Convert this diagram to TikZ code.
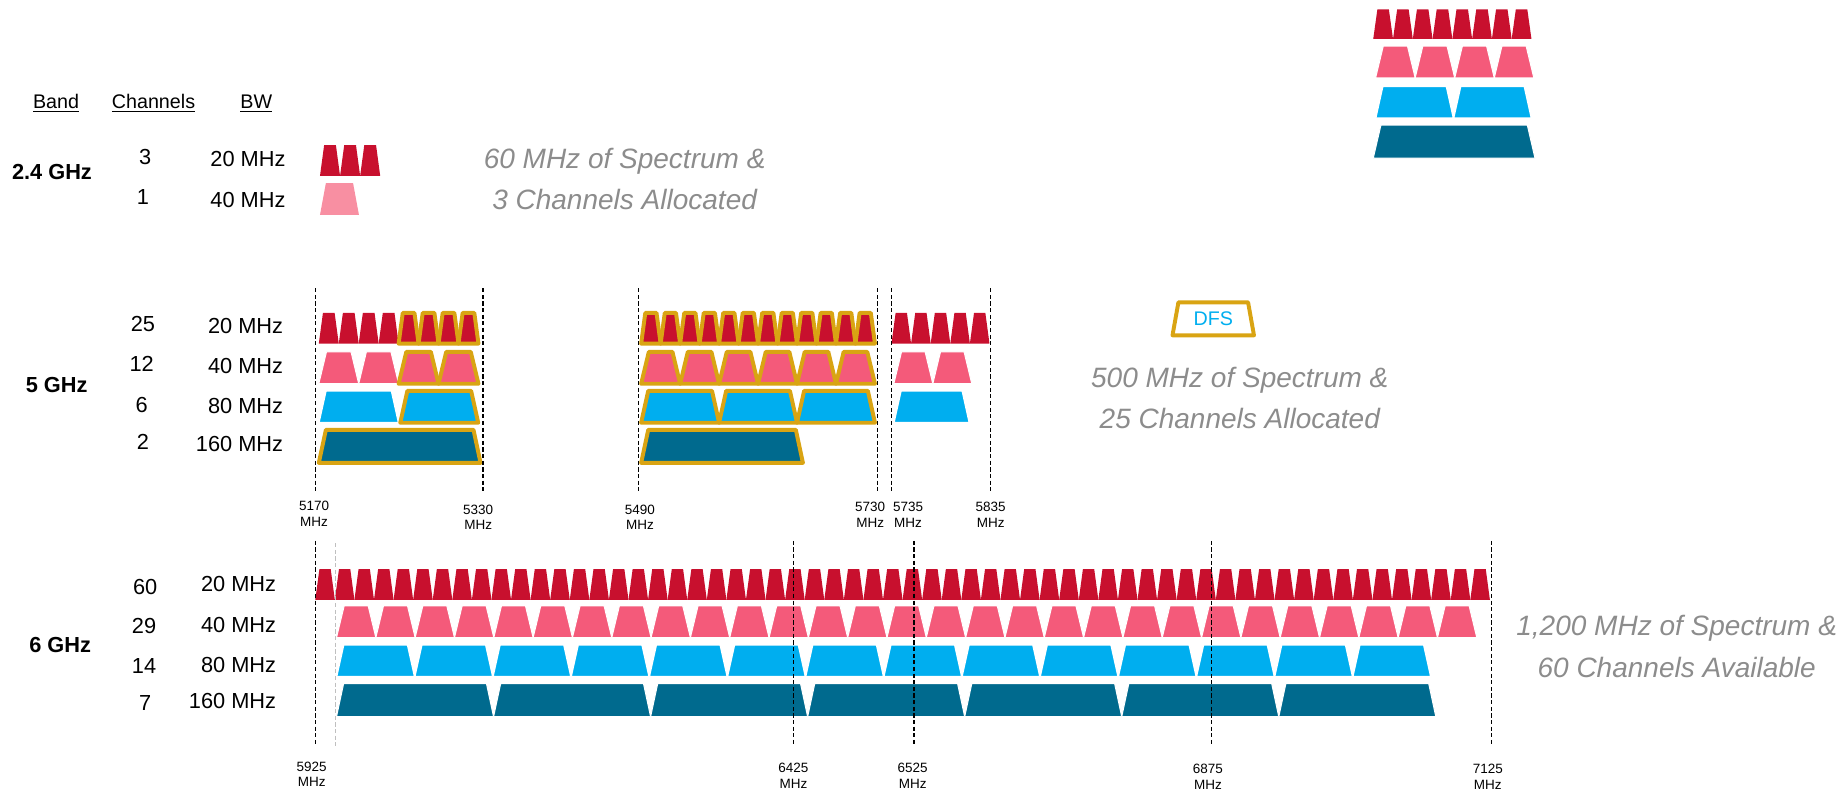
\documentclass[tikz,border=0pt]{standalone}
\usepackage{fontspec}
\setmainfont{Liberation Sans}
\definecolor{chred}{HTML}{C8102E}
\definecolor{chpink}{HTML}{F45A7A}
\definecolor{chpinklt}{HTML}{F88FA2}
\definecolor{chblue}{HTML}{00AEEF}
\definecolor{chdark}{HTML}{006A8E}
\definecolor{dfsgold}{HTML}{D9A413}
\definecolor{txtgray}{HTML}{8C8C8C}
\tikzset{c20/.style={fill=chred},
         c40/.style={fill=chpink, draw=white, line width=0.5pt},
         c40lt/.style={fill=chpinklt},
         c80/.style={fill=chblue, draw=white, line width=0.8pt},
         c160/.style={fill=chdark, draw=white, line width=0.5pt},
         dfs/.style={draw=dfsgold, line width=1.9pt, line join=round},
         marker/.style={dash pattern=on 2pt off 1.2pt, line width=0.6pt},
         freq/.style={align=center, font=\fontsize{6.5}{7.4}\selectfont},
         hdr/.style={anchor=base, font=\fontsize{9.5}{11}\selectfont},
         lbl/.style={font=\fontsize{10.5}{12}\selectfont},
         bw/.style={lbl, anchor=east},
         bandlbl/.style={font=\fontsize{10.5}{12}\selectfont\bfseries},
         note/.style={align=center, text=txtgray, font=\fontsize{13.5}{19.9}\selectfont\itshape}}
% #1 style, #2 left x, #3 channel width, #4 count, #5 top y, #6 height, #7 slant
\newcommand{\chrow}[7]{%
  \foreach \k in {1,...,#4}{
    \path[#1] ({#2+(\k-1)*#3},{#5+#6}) -- ({#2+\k*#3},{#5+#6})
      -- ({#2+\k*#3-#7},#5) -- ({#2+(\k-1)*#3+#7},#5) -- cycle;}}
\begin{document}
\begin{tikzpicture}[x=0.02cm, y=-0.02cm]
\useasboundingbox (0,0) rectangle (1560,668.2);

% header
\node[hdr] (band) at (47.5,92) {\underline{Band}};
\node[hdr] (chans) at (130,92) {\underline{Channels}};
\node[hdr] (bwhdr) at (217,92) {\underline{BW}};

% legend, top right
\chrow{c20}{1163}{16.75}{8}{8}{25}{3.5}
\chrow{c40}{1165}{33.5}{4}{39}{27}{6.5}
\chrow{c80}{1165}{66}{2}{73}{27}{6}
\chrow{c160}{1163}{137}{1}{106}{28}{6.5}

% 2.4 GHz
\node[bandlbl] (g24) at (44,145.6) {2.4 GHz};
\node[lbl] (n24a) at (123,133) {3};
\node[lbl] (n24b) at (121,167) {1};
\node[bw] (b24a) at (248,135) {20 MHz};
\node[bw] (b24b) at (248,169) {40 MHz};
\chrow{c20}{271}{17}{3}{123}{26}{3.5}
\chrow{c40lt}{271}{33}{1}{155}{27}{5}
\node[note] (sum24) at (529,151.5) {60 MHz of Spectrum \&\\3 Channels Allocated};

% 5 GHz
\node[bandlbl] (g5) at (48,326) {5 GHz};
\node[lbl] (n5a) at (121,274) {25};
\node[lbl] (n5b) at (120,308) {12};
\node[lbl] (n5c) at (120,342.6) {6};
\node[lbl] (n5d) at (121,374) {2};
\node[bw] (b5a) at (246,276) {20 MHz};
\node[bw] (b5b) at (246,310) {40 MHz};
\node[bw] (b5c) at (246,344) {80 MHz};
\node[bw] (b5d) at (246,375.6) {160 MHz};

\chrow{c20}{270}{16.9}{4}{265}{26}{3.5}
\chrow{c20,dfs}{337.6}{16.9}{4}{265}{26}{3.5}
\chrow{c40}{270}{33.8}{2}{298}{27}{6.5}
\chrow{c40,dfs}{337.6}{33.8}{2}{298}{27}{6.5}
\chrow{c80}{270}{67.6}{1}{331}{27}{6}
\chrow{c80,dfs}{339}{66}{1}{331}{27}{6}
\chrow{c160,dfs}{270}{137}{1}{364}{28}{6}

\chrow{c20,dfs}{543}{16.5}{12}{265}{26}{3.5}
\chrow{c40,dfs}{543}{33}{6}{298}{27}{6.5}
\chrow{c80,dfs}{543}{66}{3}{331}{27}{6}
\chrow{c160,dfs}{543}{137}{1}{364}{28}{6}

\chrow{c20}{755}{16.6}{5}{265}{26}{3.5}
\chrow{c40}{757}{33}{2}{298}{27}{6.5}
\chrow{c80}{757}{64}{1}{331}{27}{6}

\foreach \x in {267,409,541,743,755,839}
  \draw[marker] (\x,244) -- (\x,416);
\node[freq] (f5170) at (266,435) {5170\\MHz};
\node[freq] (f5330) at (405,438) {5330\\MHz};
\node[freq] (f5490) at (542,438) {5490\\MHz};
\node[freq] (f5730) at (737,436) {5730\\MHz};
\node[freq] (f5735) at (769,436) {5735\\MHz};
\node[freq] (f5835) at (839,436) {5835\\MHz};

\chrow{dfs}{993}{69}{1}{256}{28}{5}
\node[text=chblue, font=\fontsize{9.5}{11}\selectfont] (dfstag) at (1027.5,270) {DFS};
\node[note] (sum5) at (1050,337) {500 MHz of Spectrum \&\\25 Channels Allocated};

% 6 GHz
\node[bandlbl] (g6) at (51,546) {6 GHz};
\node[lbl] (n6a) at (123,497) {60};
\node[lbl] (n6b) at (122,530) {29};
\node[lbl] (n6c) at (122,564) {14};
\node[lbl] (n6d) at (123,595) {7};
\node[bw] (b6a) at (240,494.6) {20 MHz};
\node[bw] (b6b) at (240,529) {40 MHz};
\node[bw] (b6c) at (240,563) {80 MHz};
\node[bw] (b6d) at (240,594) {160 MHz};

\chrow{c20}{267}{16.58}{60}{482}{26}{3.5}
\chrow{c40}{285}{33.3}{29}{513}{27}{6.5}
\chrow{c80}{285}{66.2}{14}{546}{27}{6}
\chrow{c160}{285}{133}{7}{579}{28}{6}

\foreach \x in {267,672,774,1026,1263}
  \draw[marker] (\x,458) -- (\x,632);
\draw[marker, gray!50] (284,460) -- (284,632);
\node[freq] (f5925) at (264,656) {5925\\MHz};
\node[freq] (f6425) at (672,657) {6425\\MHz};
\node[freq] (f6525) at (773,657) {6525\\MHz};
\node[freq] (f6875) at (1023,658) {6875\\MHz};
\node[freq] (f7125) at (1260,658) {7125\\MHz};

\node[note] (sum6) at (1420,547.5) {1,200 MHz of Spectrum \&\\60 Channels Available};

\end{tikzpicture}
\end{document}
